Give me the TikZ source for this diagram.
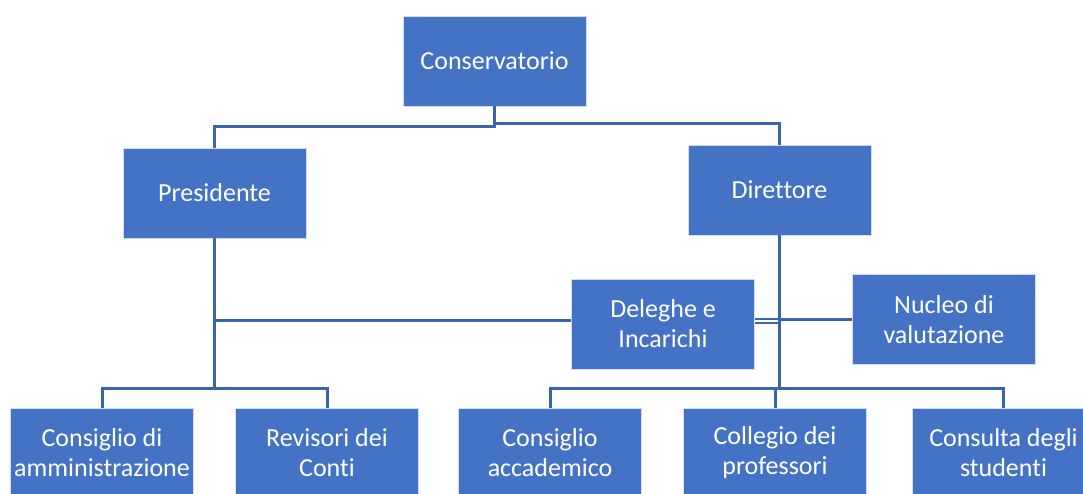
\documentclass[tikz,border=0pt]{standalone}
\usepackage{fontspec}
\setmainfont{Carlito}[Ligatures={NoCommon}]
\definecolor{boxblue}{HTML}{4472C4}
\definecolor{lineblue}{HTML}{3B64AE}
\tikzset{
    unit/.style = {
        draw=white!75!boxblue,
        line width=0.8pt,
        fill=boxblue,
        text=white,
        minimum width=183pt,
        minimum height=90pt,
        inner sep=0pt,
        align=center,
        font=\fontsize{26}{30}\selectfont
    },
    link/.style = {
        lineblue,
        line width=3pt
    }
}

\begin{document}
\begin{tikzpicture}[x=1pt,y=-1pt]
    \useasboundingbox (0,0) rectangle (1083,493);
    \clip (0,0) rectangle (1083,493);

    % Draw all units
    \node[unit] (cons) at (494.5,61)  {Conservatorio};
    \node[unit] (pres) at (214.5,193) {Presidente};
    \node[unit] (dir)  at (779.5,190) {Direttore};
    \node[unit] (del)  at (663,324)   {Deleghe e\\Incarichi};
    \node[unit] (nuc)  at (944,319.5) {Nucleo di\\valutazione};

    \node[unit] (cda) at (102,453)    {Consiglio di\\amministrazione};
    \node[unit] (rev) at (327,453)    {Revisori dei\\Conti};
    \node[unit] (cac) at (550,453)    {Consiglio\\accademico};
    \node[unit] (col) at (775,453)    {Collegio dei\\professori};
    \node[unit] (cst) at (1003.5,453) {Consulta degli\\studenti};

    % Draw connectors
    \draw[link] (cons.south) -- ++(0,20) -| (pres.north);
    \draw[link] (cons.south) -- ++(0,17) -| (dir.north);

    \draw[link] (pres.south) -- ++(0,150) coordinate (pj);
    \draw[link] (pj) -| (cda.north);
    \draw[link] (pj) -| (rev.north);

    \draw[link] (dir.south) -- ++(0,153) coordinate (dj);
    \draw[link] (dj) -| (cac.north);
    \draw[link] (dj) -| (col.north);
    \draw[link] (dj) -| (cst.north);

    \draw[link] ([yshift=4pt]del.west) -- ([yshift=4pt]del.west -| pres.south);
    \draw[link, line width=2.2pt] ([yshift=4.7pt]del.east) -- ([yshift=4.7pt]del.east -| dir.south);
    \draw[link, line width=2.2pt] ([yshift=0.7pt]del.east) -- ([yshift=0.7pt]del.east -| dir.south);
    \draw[link] (nuc.west) -- (nuc.west -| dir.south);
\end{tikzpicture}
\end{document}
